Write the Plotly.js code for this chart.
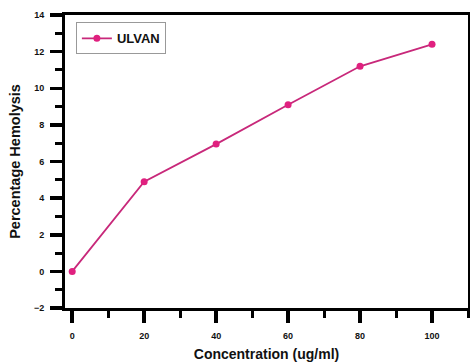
<!DOCTYPE html>
<html><head><meta charset="utf-8">
<script src="https://cdn.plot.ly/plotly-3.0.1.min.js"></script>
<style>html,body{margin:0;padding:0;background:#fff}#chart{width:470px;height:362px}</style>
</head><body><div id="chart"></div>
<script>
const concentration = [0, 20, 40, 60, 80, 100];
const hemolysis = [0, 4.9, 6.95, 9.1, 11.2, 12.4];
const seriesName = 'ULVAN';

const trace = {
  x: concentration, y: hemolysis, name: seriesName,
  type: 'scatter', mode: 'lines+markers',
  line: {color: '#c8287a', width: 1.8},
  marker: {color: '#e0207f', size: 7}
};
const fontB = {family: 'Liberation Sans, Arial, sans-serif', color: '#111', weight: 'bold'};
const layout = {
  width: 470, height: 362,
  margin: {l: 65, r: 2, t: 15, b: 54},
  paper_bgcolor: '#fff', plot_bgcolor: '#fff',
  showlegend: true,
  legend: {x: 0.027, y: 0.975, xanchor: 'left', yanchor: 'top', bgcolor: '#fff',
    bordercolor: '#999', borderwidth: 1, font: Object.assign({}, fontB, {size: 13}),
    itemwidth: 30, tracegroupgap: 0},
  xaxis: {
    range: [-2, 110], tickmode: 'linear', tick0: 0, dtick: 20,
    showgrid: false, zeroline: false, showline: true, linewidth: 3, linecolor: '#000', mirror: true,
    ticks: 'outside', ticklen: 12, tickwidth: 3.5, tickcolor: '#000', ticklabelstandoff: 5,
    minor: {dtick: 10, tick0: 0, ticks: 'outside', ticklen: 7, tickwidth: 3, tickcolor: '#000', showgrid: false},
    tickfont: Object.assign({}, fontB, {size: 9}),
    title: {text: 'Concentration (ug/ml)', font: Object.assign({}, fontB, {size: 14}), standoff: 12}
  },
  yaxis: {
    range: [-2, 14], tickmode: 'linear', tick0: 0, dtick: 2,
    showgrid: false, zeroline: false, showline: true, linewidth: 3, linecolor: '#000', mirror: true,
    ticks: 'outside', ticklen: 12, tickwidth: 3.5, tickcolor: '#000', ticklabelstandoff: 4,
    minor: {dtick: 1, tick0: 0, ticks: 'outside', ticklen: 7, tickwidth: 3, tickcolor: '#000', showgrid: false},
    tickfont: Object.assign({}, fontB, {size: 9}),
    title: {text: 'Percentage Hemolysis', font: Object.assign({}, fontB, {size: 14.5}), standoff: 10}
  }
};
Plotly.newPlot('chart', [trace], layout, {displayModeBar: false, staticPlot: true});
</script></body></html>
